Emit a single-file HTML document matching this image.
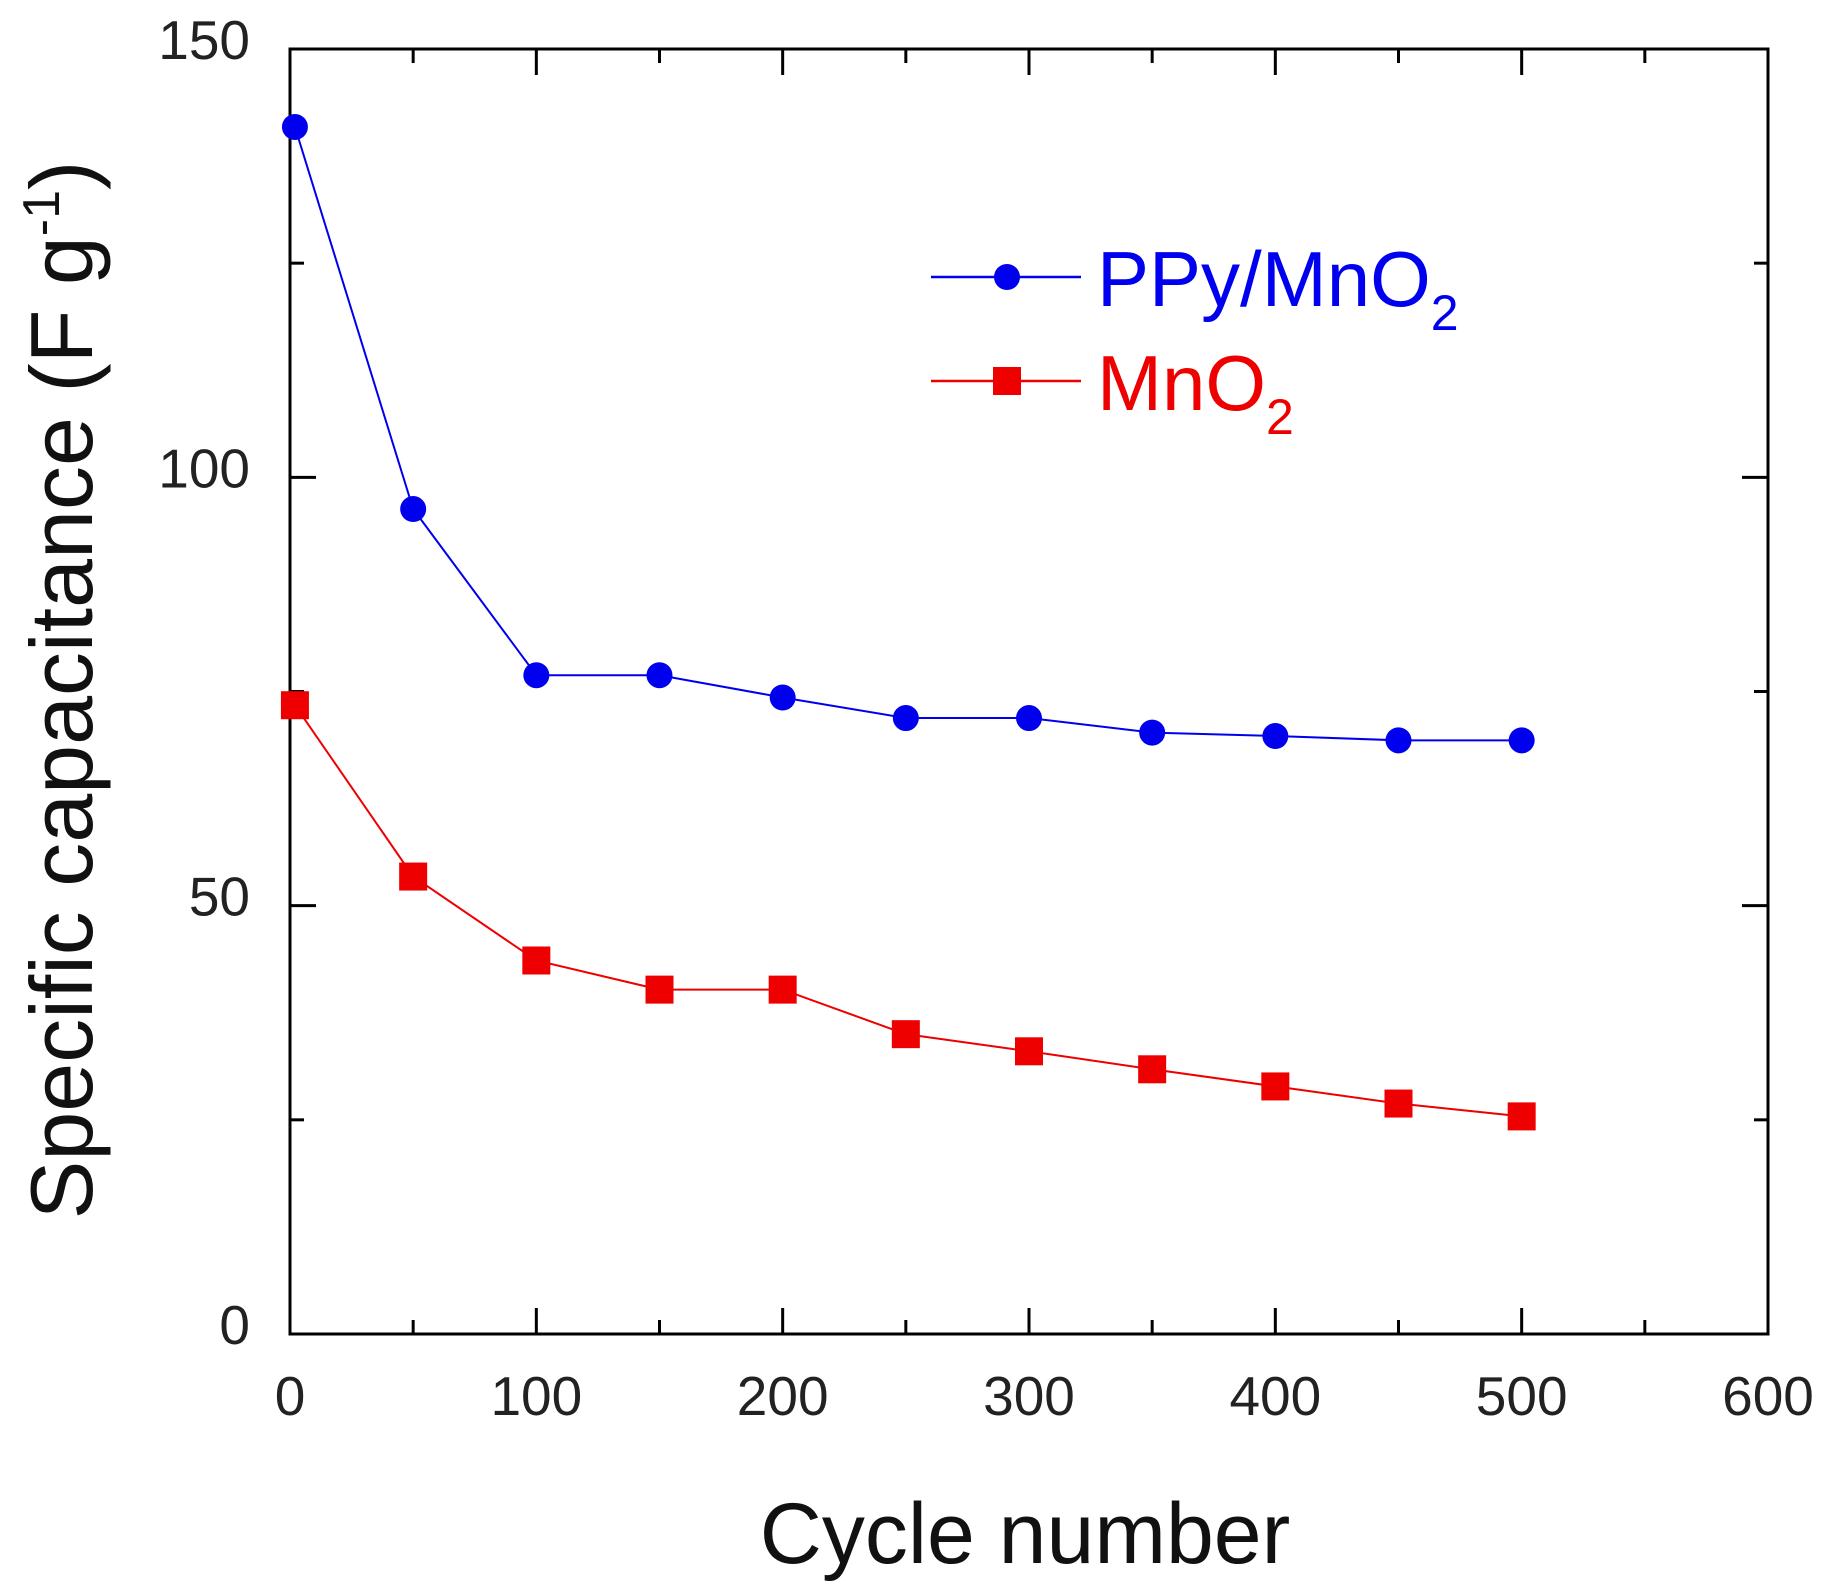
<!DOCTYPE html>
<html><head><meta charset="utf-8"><style>
html,body{margin:0;padding:0;background:#fff;}
svg{display:block;font-family:"Liberation Sans",Arial,sans-serif;}
</style></head><body>
<svg id="chart" width="1831" height="1593" viewBox="0 0 1831 1593">
<g id="axes"></g>
<g id="series"></g>
<text x="1025" y="1563" text-anchor="middle" font-size="86" fill="#111">Cycle number</text>
<text transform="translate(92,690) rotate(-90)" text-anchor="middle" font-size="88" fill="#111">Specific capacitance (F g<tspan font-size="52" dy="-33">-1</tspan><tspan dy="33">)</tspan></text>
<g>
<line x1="931" y1="277" x2="1081" y2="277" stroke="#0000ee" stroke-width="2.5"/>
<circle cx="1007" cy="277" r="13" fill="#0000ee"/>
<text x="1097" y="306" font-size="78" fill="#0000ee">PPy/MnO<tspan font-size="50" dy="24">2</tspan></text>
<line x1="931" y1="381" x2="1081" y2="381" stroke="#ee0000" stroke-width="2.5"/>
<rect x="993" y="367" width="28" height="28" fill="#ee0000"/>
<text x="1097" y="410" font-size="78" fill="#ee0000">MnO<tspan font-size="50" dy="24">2</tspan></text>
</g>
</svg>
<script>
const cycles = [2, 50, 100, 150, 200, 250, 300, 350, 400, 450, 500];
const ppyValues = [140.9, 96.3, 76.9, 76.9, 74.3, 71.9, 71.9, 70.2, 69.8, 69.3, 69.3];
const mno2Values = [73.4, 53.4, 43.6, 40.2, 40.2, 35.0, 33.0, 30.9, 28.9, 26.9, 25.4];
const xTicks = [0, 100, 200, 300, 400, 500, 600];
const yTicks = [0, 50, 100, 150];

const L = 290, R = 1768, T = 49, B = 1334;
const xMin = 0, xMax = 600, yMin = 0, yMax = 150;
function xs(v){ return L + (v - xMin) / (xMax - xMin) * (R - L); }
function ys(v){ return B - (v - yMin) / (yMax - yMin) * (B - T); }
const NS = 'http://www.w3.org/2000/svg';
function mk(tag, attrs, parent){
  const e = document.createElementNS(NS, tag);
  for (const k in attrs) e.setAttribute(k, attrs[k]);
  parent.appendChild(e);
  return e;
}
const axes = document.getElementById('axes');
const series = document.getElementById('series');
const frame = mk('rect', {x:L, y:T, width:R-L, height:B-T, fill:'none', stroke:'#000', 'stroke-width':3}, axes);



for (let v = xMin; v <= xMax; v += 50) {
  const major = v % 100 === 0;
  const len = major ? 26 : 14;
  const x = xs(v);
  const tb = mk('line', {x1:x, y1:B, x2:x, y2:B-len, stroke:'#000', 'stroke-width':3}, axes);
  
  
  const tt = mk('line', {x1:x, y1:T, x2:x, y2:T+len, stroke:'#000', 'stroke-width':3}, axes);
  
  
}
xTicks.forEach(v => {
  const t = mk('text', {x:xs(v), y:1415, 'text-anchor':'middle', 'font-size':55, fill:'#222'}, axes);
  t.textContent = v;
  
  
});
for (let v = yMin; v <= yMax; v += 25) {
  const major = v % 50 === 0;
  const len = major ? 26 : 14;
  const y = ys(v);
  const tl = mk('line', {x1:L, y1:y, x2:L+len, y2:y, stroke:'#000', 'stroke-width':3}, axes);
  
  
  const tr = mk('line', {x1:R, y1:y, x2:R-len, y2:y, stroke:'#000', 'stroke-width':3}, axes);
  
  
}
yTicks.forEach(v => {
  const t = mk('text', {x:250, y:ys(v)+10, 'text-anchor':'end', 'font-size':55, fill:'#222'}, axes);
  t.textContent = v;
  
  
});

function drawSeries(vals, color, shape, name){
  const pts = cycles.map((c,i) => xs(c) + ',' + ys(vals[i])).join(' ');
  const pl = mk('polyline', {points:pts, fill:'none', stroke:color, 'stroke-width':2}, series);
  
  
  cycles.forEach((c,i) => {
    let m;
    if (shape === 'circle') m = mk('circle', {cx:xs(c), cy:ys(vals[i]), r:13, fill:color}, series);
    else m = mk('rect', {x:xs(c)-14, y:ys(vals[i])-14, width:28, height:28, fill:color}, series);
    
    
  });
}
drawSeries(ppyValues, '#0000ee', 'circle', 'ppy-mno2');
drawSeries(mno2Values, '#ee0000', 'square', 'mno2');
</script>
</body></html>
